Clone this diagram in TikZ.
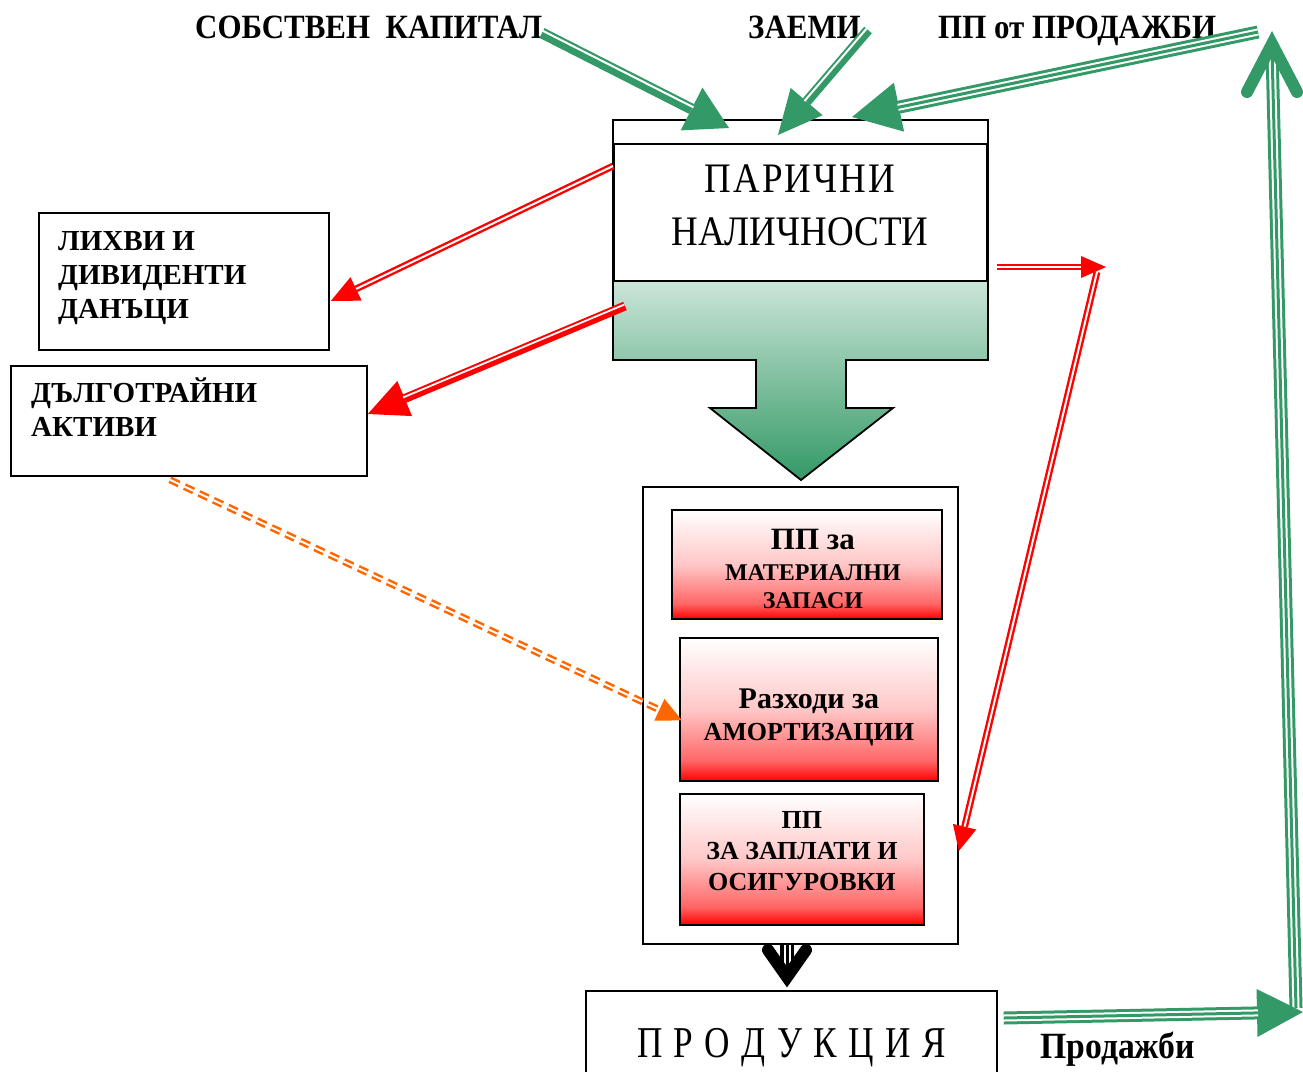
\documentclass[tikz,border=0pt]{standalone}
\usepackage{fontspec}
\setmainfont{Liberation Serif}
\newfontfamily\condfont{Liberation Serif}[FakeStretch=0.88]
\newfontfamily\prodfont{Liberation Serif}[FakeStretch=0.8, WordSpace=1.3]
\newfontfamily\tallfont{Liberation Serif}[FakeStretch=0.91]
\usetikzlibrary{arrows.meta,calc}
\definecolor{sg}{RGB}{51,153,102}
\definecolor{orng}{RGB}{255,102,0}
\definecolor{rd}{RGB}{255,0,0}
\pgfdeclareverticalshading{cashshade}{100bp}{color(0bp)=(sg); color(25bp)=(sg); color(62bp)=(white); color(100bp)=(white)}
\pgfdeclareverticalshading{redshade}{100bp}{color(0bp)=(rd); color(25bp)=(rd); color(32bp)=(rd!60!white); color(50bp)=(rd!22!white); color(75bp)=(white); color(100bp)=(white)}
\begin{document}
\begin{tikzpicture}[x=1pt,y=-1pt,
  box/.style={draw=black, line width=1.8pt, inner sep=0pt},
  toplbl/.style={font=\tallfont\bfseries\fontsize{34}{36}\selectfont, inner sep=0pt, anchor=base west},
  boldlbl/.style={font=\bfseries\fontsize{29}{34}\selectfont, align=left, inner sep=0pt},
  rbox/.style={box, shade, shading=redshade, anchor=north west},
  rtxt/.style={align=center, inner sep=0pt},
  redd/.style={draw=rd, line width=2.4pt, double=white, double distance=2pt},
  gtriple/.style={white, line width=2pt, double=sg, double distance=3pt}
]
\useasboundingbox (0,0) rectangle (1303,1071);
\clip (0,0) rectangle (1303,1071);

% top labels
\node[toplbl] (sk) at (195,38) {СОБСТВЕН~~КАПИТАЛ};
\node[toplbl] (zm) at (748,38) {ЗАЕМИ};
\node[toplbl] (ppp) at (938,38) {ПП от ПРОДАЖБИ};

% cash block with down arrow
\path[shade, shading=cashshade, draw=black, line width=1.8pt, line join=miter]
  (613,120) -- (988,120) -- (988,360) -- (846,360) -- (846,408) -- (893,408)
  -- (801,480) -- (710,408) -- (756,408) -- (756,360) -- (613,360) -- cycle;
\node[box, fill=white, minimum width=373pt, minimum height=137pt, anchor=north west] (par) at (613,143) {};
\node[font=\condfont\fontsize{42}{53}\selectfont, align=center, inner sep=0pt] (partxt) at (800,205) {{\addfontfeature{LetterSpace=5}ПАРИЧНИ}\\НАЛИЧНОСТИ};

% left boxes
\node[box, minimum width=290pt, minimum height=137pt, anchor=north west] (lih) at (38,212) {};
\node[boldlbl, anchor=north west] (lihtxt) at (58,231) {ЛИХВИ И\\ДИВИДЕНТИ\\ДАНЪЦИ};
\node[box, minimum width=356pt, minimum height=110pt, anchor=north west] (dalg) at (10,365) {};
\node[boldlbl, anchor=north west] (dalgtxt) at (31,378) {ДЪЛГОТРАЙНИ\\АКТИВИ};

% container and cost boxes
\node[box, minimum width=315pt, minimum height=457pt, anchor=north west] (cont) at (642,486) {};
\node[rbox, minimum width=270pt, minimum height=109pt] (mz) at (671,509) {};
\node[rtxt, font=\bfseries\fontsize{24}{28}\selectfont] (mztxt) at ($(mz.center)+(6,5)$) {{\fontsize{31}{31}\selectfont ПП за}\\[3pt]МАТЕРИАЛНИ\\ЗАПАСИ};
\node[rbox, minimum width=258pt, minimum height=143pt] (amort) at (679,637) {};
\node[rtxt, font=\bfseries\fontsize{26}{32}\selectfont] (amtxt) at ($(amort.center)+(0,8)$) {{\fontsize{30}{30}\selectfont Разходи за}\\АМОРТИЗАЦИИ};
\node[rbox, minimum width=244pt, minimum height=131pt] (zapl) at (679,793) {};
\node[rtxt, font=\bfseries\fontsize{26}{31}\selectfont] (zptxt) at ($(zapl.center)+(0,-8)$) {ПП\\ЗА ЗАПЛАТИ И\\ОСИГУРОВКИ};

% production
\node[box, minimum width=411pt, minimum height=114pt, anchor=north west, font=\prodfont\fontsize{44}{48}\selectfont] (prod) at (585,990) {П Р О Д У К Ц И Я};
\node[toplbl, font=\tallfont\bfseries\fontsize{37}{40}\selectfont] (sales) at (1040,1058) {Продажби};

% green inflows
\coordinate (skS) at (542,33); \coordinate (cashA) at (729,128);
\draw[sg, line width=11pt, -{Triangle[length=42pt,width=48pt,line width=0pt]}] (skS) -- (cashA);
\draw[white, line width=2pt, shorten >=41pt] ($(skS)!2.3pt!90:(cashA)$) -- ($(cashA)!2.3pt!-90:(skS)$);

\coordinate (zmS) at (868,30); \coordinate (cashB) at (778,135);
\draw[sg, line width=10pt, -{Triangle[length=44pt,width=42pt,line width=0pt]}] (zmS) -- (cashB);
\draw[white, line width=2pt, shorten >=43pt] ($(zmS)!2pt!-90:(cashB)$) -- ($(cashB)!2pt!90:(zmS)$);

\coordinate (pppS) at (1258,32); \coordinate (cashC) at (852,117);
\draw[sg, line width=13pt, -{Triangle[length=48pt,width=50pt,line width=0pt]}] (pppS) -- (cashC);
\draw[gtriple, shorten >=47pt] (pppS) -- (cashC);

% sales loop
\coordinate (vB) at (1296,1008); \coordinate (vT) at (1272,50);
\draw[sg, line width=13pt] (vB) -- (vT);
\draw[gtriple] (vB) -- (vT);
\draw[sg, line width=12pt, line cap=round, line join=miter] ($(vT)+(-25,42)$) -- ($(vT)+(0,-6)$) -- ($(vT)+(25,42)$);

\coordinate (prS) at ($(prod.north east)+(6,28)$); \coordinate (prE) at (1303,1012);
\draw[sg, line width=13pt, -{Triangle[length=46pt,width=48pt,line width=0pt]}] (prS) -- (prE);
\draw[gtriple, shorten >=45pt] (prS) -- (prE);

% black arrow to production
\coordinate (bS) at ($(cont.south west)+(145,0)$); \coordinate (bE) at (787,978);
\draw[black, line width=14pt] (bS) -- (bE);
\draw[white, line width=2pt, double=black, double distance=3pt] (bS) -- (bE);
\draw[black, line width=12pt, line cap=round, line join=miter] (768,950) -- (787,977) -- (806,950);

% red outflows
\coordinate (r1S) at ($(par.north west)+(0,23)$); \coordinate (r1E) at ($(lih.north east)+(1,89)$);
\draw[redd, -{Triangle[length=28pt,width=26pt,line width=0pt]}] (r1S) -- (r1E);

\coordinate (r2S) at (625,306); \coordinate (r2E) at ($(dalg.north east)+(0,49)$);
\draw[rd, line width=9pt, -{Triangle[length=40pt,width=38pt,line width=0pt]}] (r2S) -- (r2E);
\draw[white, line width=1.8pt, shorten >=39pt] ($(r2S)!1.6pt!-90:(r2E)$) -- ($(r2E)!1.6pt!90:(r2S)$);

\coordinate (r3S) at ($(par.north east)+(9,124)$); \coordinate (r3E) at (1106,267);
\draw[redd, -{Triangle[length=25pt,width=22pt,line width=0pt]}] (r3S) -- (r3E);
\coordinate (r4S) at (1097,272); \coordinate (r4E) at ($(cont.north east)+(0,365)$);
\draw[redd, -{Triangle[length=25pt,width=24pt,line width=0pt]}] (r4S) -- (r4E);

% orange dashed
\coordinate (oS) at ($(dalg.south west)+(160,3)$); \coordinate (oE) at ($(amort.west)+(3,11)$);
\draw[draw=orng, line width=2.5pt, double=white, double distance=2pt, dash pattern=on 10pt off 6pt, -{Triangle[length=25pt,width=24pt,line width=0pt]}] (oS) -- (oE);
\end{tikzpicture}
\end{document}
